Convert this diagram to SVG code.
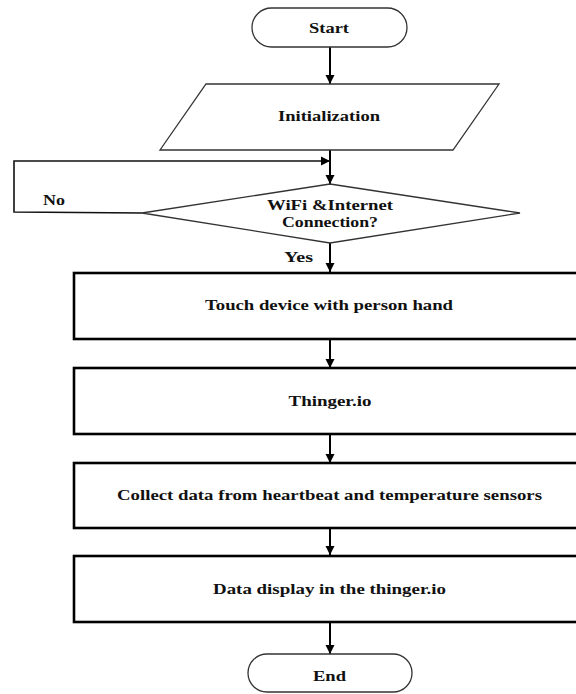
<svg xmlns="http://www.w3.org/2000/svg" width="576" height="694" viewBox="0 0 576 694">
<defs>
<marker id="ah" markerUnits="userSpaceOnUse" markerWidth="10" markerHeight="10" refX="9" refY="5" orient="auto">
<path d="M0,0.5 L9,5 L0,9.5 Z" fill="#000"/>
</marker>
<style>
.thin{fill:#fff;stroke:#333;stroke-width:1.3}
.box{fill:#fff;stroke:#000;stroke-width:2.6}
.t{font-family:"Liberation Serif","Times New Roman",serif;font-weight:bold;font-size:14px;fill:#111;text-anchor:middle}
.lbl{font-family:"Liberation Serif","Times New Roman",serif;font-weight:bold;font-size:14px;fill:#111}
.c{fill:none;stroke:#000;stroke-width:2}
.cl{fill:none;stroke:#111;stroke-width:1.6}
</style>
</defs>
<rect width="576" height="694" fill="#fff"/>
<g id="connectors">
<line class="c" x1="330" y1="47" x2="330" y2="84" marker-end="url(#ah)"/>
<line class="c" x1="330" y1="150" x2="330" y2="184" marker-end="url(#ah)"/>
<polyline class="cl" points="142,213 14,212 14,161 330,161" marker-end="url(#ah)"/>
<line class="c" x1="330" y1="243" x2="330" y2="272" marker-end="url(#ah)"/>
<line class="c" x1="330" y1="339" x2="330" y2="368" marker-end="url(#ah)"/>
<line class="c" x1="330" y1="434" x2="330" y2="463" marker-end="url(#ah)"/>
<line class="c" x1="330" y1="528" x2="330" y2="555" marker-end="url(#ah)"/>
<line class="c" x1="330" y1="622" x2="330" y2="654" marker-end="url(#ah)"/>
<text class="lbl" x="43" y="205" textLength="22" lengthAdjust="spacingAndGlyphs">No</text>
<text class="lbl" x="284" y="262" textLength="29" lengthAdjust="spacingAndGlyphs">Yes</text>
</g>
<g id="start">
<rect class="thin" x="252" y="8" width="155" height="39" rx="19.5"/>
<text class="t" x="329" y="33" textLength="40" lengthAdjust="spacingAndGlyphs">Start</text>
</g>
<g id="init">
<polygon class="thin" points="206,84 499,84 453,150 160,150"/>
<text class="t" x="329" y="121" textLength="102" lengthAdjust="spacingAndGlyphs">Initialization</text>
</g>
<g id="decision">
<polygon class="thin" points="330,184 520,213 330,243 142,213"/>
<text class="t" x="330" y="210" textLength="126" lengthAdjust="spacingAndGlyphs">WiFi &amp;Internet</text>
<text class="t" x="330" y="227" textLength="96" lengthAdjust="spacingAndGlyphs">Connection?</text>
</g>
<g id="touch">
<rect class="box" x="74" y="273" width="520" height="66"/>
<text class="t" x="329" y="310" textLength="248" lengthAdjust="spacingAndGlyphs">Touch device with person hand</text>
</g>
<g id="thinger">
<rect class="box" x="74" y="368" width="520" height="66"/>
<text class="t" x="330" y="406" textLength="83" lengthAdjust="spacingAndGlyphs">Thinger.io</text>
</g>
<g id="collect">
<rect class="box" x="74" y="463" width="520" height="65"/>
<text class="t" x="329.5" y="500" textLength="425" lengthAdjust="spacingAndGlyphs">Collect data from heartbeat and temperature sensors</text>
</g>
<g id="display">
<rect class="box" x="74" y="556" width="520" height="66"/>
<text class="t" x="329.5" y="594" textLength="233" lengthAdjust="spacingAndGlyphs">Data display in the thinger.io</text>
</g>
<g id="end">
<rect class="thin" x="248" y="654" width="164" height="38" rx="19"/>
<text class="t" x="329.5" y="681" textLength="33" lengthAdjust="spacingAndGlyphs">End</text>
</g>
</svg>
